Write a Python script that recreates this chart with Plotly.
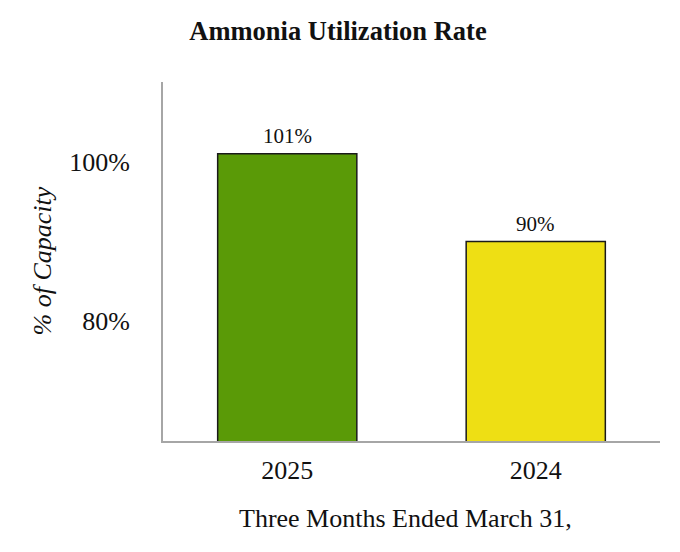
import plotly.graph_objects as go

categories = ["2025", "2024"]
values = [101, 90]
value_labels = ["101%", "90%"]
bar_colors = ["#5a9a07", "#eedf14"]
y_tickvals = [80, 100]
y_ticktext = ["80%", "100%"]

FONT = "Liberation Serif, Times New Roman, serif"

fig = go.Figure()
fig.add_trace(go.Bar(
    x=categories,
    y=values,
    width=0.56,
    marker=dict(color=bar_colors, line=dict(color="#1a1a1a", width=1.5)),
    cliponaxis=False,
))

annotations = [
    dict(text=lbl, x=i, y=v, xref="x", yref="y", xanchor="center", yanchor="bottom",
         yshift=4, showarrow=False, font=dict(family=FONT, size=21, color="#111111"))
    for i, (v, lbl) in enumerate(zip(values, value_labels))
]
annotations += [
    dict(text="Three Months Ended March 31,", xref="paper", yref="paper",
         x=(405 - 163) / 497, y=-(518 - 441) / 359, xanchor="center", yanchor="middle",
         showarrow=False, font=dict(family=FONT, size=26, color="#111111")),
    dict(text="<i>% of Capacity</i>", xref="paper", yref="paper",
         x=-(163 - 42) / 497, y=0.5, xanchor="center", yanchor="middle",
         textangle=-90, showarrow=False,
         font=dict(family=FONT, size=26, color="#111111")),
]

fig.update_layout(
    width=680, height=552,
    margin=dict(l=155, r=28, t=74, b=119),
    paper_bgcolor="white", plot_bgcolor="white",
    showlegend=False,
    font=dict(family=FONT, color="#111111"),
    title=dict(text="<b>Ammonia Utilization Rate</b>", x=0.5 - 10 / 680, xanchor="center",
               y=1 - 23 / 552, yanchor="middle", yref="container",
               font=dict(family=FONT, size=26.5, color="#111111")),
    xaxis=dict(
        type="category",
        range=[-0.5, 1.5], showline=True, linecolor="#a6a6a6", linewidth=2,
        showgrid=False, zeroline=False, ticks="",
        tickfont=dict(family=FONT, size=26, color="#111111"),
        ticklabelstandoff=5,
    ),
    yaxis=dict(
        range=[65, 110], showline=True, linecolor="#a6a6a6", linewidth=2,
        showgrid=False, zeroline=False, ticks="",
        tickvals=y_tickvals, ticktext=y_ticktext,
        tickfont=dict(family=FONT, size=26, color="#111111"),
        ticklabelstandoff=26,
    ),
    annotations=annotations,
)

fig.write_html("out.html")
